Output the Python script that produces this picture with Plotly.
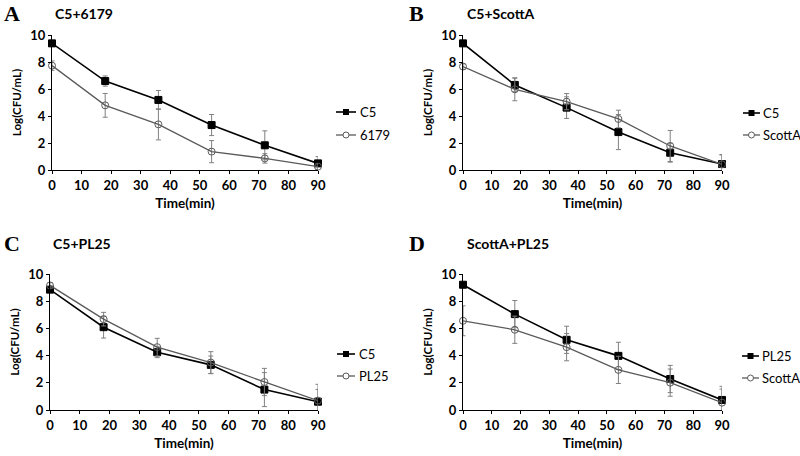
import plotly.graph_objects as go

time = [0, 18, 36, 54, 72, 90]

# Panel A: C5 + 6179
a_c5 = [9.38, 6.59, 5.19, 3.33, 1.83, 0.49]
a_c5_err = [0.2, 0.38, 0.7, 0.78, 1.07, 0.5]
a_6179 = [7.73, 4.79, 3.38, 1.36, 0.86, 0.25]
a_6179_err = [0.35, 0.88, 1.15, 0.82, 0.35, 0.2]

# Panel B: C5 + ScottA
b_c5 = [9.38, 6.30, 4.62, 2.81, 1.28, 0.44]
b_c5_err = [0.2, 0.5, 0.8, 1.3, 0.7, 0.7]
b_scotta = [7.66, 5.98, 5.06, 3.78, 1.78, 0.42]
b_scotta_err = [0.2, 0.85, 0.6, 0.65, 1.15, 0.7]

# Panel C: C5 + PL25
c_c5 = [8.85, 6.09, 4.25, 3.32, 1.50, 0.61]
c_c5_err = [0.2, 0.8, 0.4, 0.65, 1.25, 0.9]
c_pl25 = [9.16, 6.68, 4.62, 3.49, 2.06, 0.69]
c_pl25_err = [0.2, 0.5, 0.65, 0.8, 1.0, 1.2]

# Panel D: PL25 + ScottA
d_pl25 = [9.21, 7.05, 5.16, 3.98, 2.28, 0.74]
d_pl25_err = [0.2, 1.0, 1.0, 1.0, 1.0, 1.0]
d_scotta = [6.56, 5.90, 4.62, 2.95, 2.01, 0.54]
d_scotta_err = [1.1, 1.0, 1.0, 1.0, 1.0, 1.0]

panels = [
    ("A", "C5+6179", ("C5", a_c5, a_c5_err), ("6179", a_6179, a_6179_err)),
    ("B", "C5+ScottA", ("C5", b_c5, b_c5_err), ("ScottA", b_scotta, b_scotta_err)),
    ("C", "C5+PL25", ("C5", c_c5, c_c5_err), ("PL25", c_pl25, c_pl25_err)),
    ("D", "ScottA+PL25", ("PL25", d_pl25, d_pl25_err), ("ScottA", d_scotta, d_scotta_err)),
]

W, H = 800, 456
# plot-area pixel boxes (left, right, top, bottom)
boxes = [
    (52, 318, 35, 170),
    (463, 722, 35, 170),
    (50, 318, 274, 410),
    (463, 722, 274, 410),
]
# legend: (line start x, line end x, text x, y first, y second)
legend_geo = [
    (336, 356, 358, 112, 135),
    (743, 760, 761, 113, 135),
    (337, 355, 357, 354, 376),
    (742, 759, 760, 356, 378),
]
label_pos = [(2, 13), (407, 13), (2, 243), (407, 243)]
title_pos = [(53, 13), (465, 13), (51, 243), (465, 243)]

FONT = "Lato"
STYLES = [
    dict(color="black", symbol="square", fill="black", lw=1.6),
    dict(color="#5a5a5a", symbol="circle-open", fill="#5a5a5a", lw=1.3),
]

fig = go.Figure()
annotations = []
shapes = []
layout = dict(
    width=W, height=H, margin=dict(l=0, r=0, t=0, b=0, autoexpand=False),
    paper_bgcolor="white", plot_bgcolor="white",
    font=dict(family=FONT, color="black"),
    showlegend=False,
)


def px(x):
    return x / W


def py(y):
    return 1 - y / H


for i, (letter, title, s1, s2) in enumerate(panels):
    n = "" if i == 0 else str(i + 1)
    l, r, t, b = boxes[i]
    layout["xaxis" + n] = dict(
        domain=[px(l), px(r)], range=[0, 90], tickvals=list(range(0, 100, 10)),
        showline=True, linecolor="black", linewidth=1, ticks="outside", ticklen=3,
        tickcolor="black", showgrid=False, zeroline=False, automargin=False,
        tickfont=dict(size=13, family=FONT, weight="bold"),
        title=dict(text="<b>Time(min)</b>", font=dict(size=13.5, family=FONT), standoff=6),
        anchor="y" + n, fixedrange=True,
    )
    layout["yaxis" + n] = dict(
        domain=[py(b), py(t)], range=[0, 10], tickvals=[0, 2, 4, 6, 8, 10],
        showline=True, linecolor="black", linewidth=1, ticks="outside", ticklen=3,
        tickcolor="black", showgrid=False, zeroline=False, automargin=False,
        tickfont=dict(size=13, family=FONT, weight="bold"),
        title=dict(text="<b>Log(CFU/mL)</b>", font=dict(size=11.5, family=FONT), standoff=6),
        anchor="x" + n, fixedrange=True,
    )
    x0, x1, xt, ya, yb = legend_geo[i]
    for j, (name, vals, errs) in enumerate([s1, s2]):
        st = STYLES[j]
        fig.add_trace(go.Scatter(
            x=time, y=vals, name=name, mode="lines+markers",
            xaxis="x" + n, yaxis="y" + n,
            line=dict(color=st["color"], width=st["lw"]),
            marker=dict(symbol=st["symbol"], size=7, color=st["fill"],
                        line=dict(color=st["color"], width=1)),
            error_y=dict(type="data", array=errs, visible=True, color="#808080",
                         thickness=1, width=2.5),
            cliponaxis=False,
        ))
        # legend entry (drawn manually)
        yy = ya if j == 0 else yb
        shapes.append(dict(type="line", xref="paper", yref="paper",
                           x0=px(x0), x1=px(x1), y0=py(yy), y1=py(yy),
                           line=dict(color=st["color"], width=st["lw"])))
        xm = (x0 + x1) / 2
        if j == 0:
            shapes.append(dict(type="rect", xref="paper", yref="paper",
                               x0=px(xm - 3), x1=px(xm + 3), y0=py(yy - 3), y1=py(yy + 3),
                               fillcolor="black", line=dict(width=0)))
        else:
            shapes.append(dict(type="circle", xref="paper", yref="paper",
                               x0=px(xm - 3), x1=px(xm + 3), y0=py(yy - 3), y1=py(yy + 3),
                               fillcolor="white", line=dict(color=st["color"], width=1)))
        annotations.append(dict(
            text=name, x=px(xt), y=py(yy), xref="paper", yref="paper",
            xanchor="left", yanchor="middle", showarrow=False,
            font=dict(family=FONT, size=13, color="black"),
        ))
    lx, ly = label_pos[i]
    annotations.append(dict(
        text="<b>" + letter + "</b>", x=px(lx), y=py(ly), xref="paper", yref="paper",
        xanchor="left", yanchor="middle", showarrow=False,
        font=dict(family="Liberation Serif", size=22, color="black"),
    ))
    tx, ty = title_pos[i]
    annotations.append(dict(
        text="<b>" + title + "</b>", x=px(tx), y=py(ty), xref="paper", yref="paper",
        xanchor="left", yanchor="middle", showarrow=False,
        font=dict(family=FONT, size=14, color="black"),
    ))

layout["annotations"] = annotations
layout["shapes"] = shapes
fig.update_layout(**layout)
fig.write_html(
    "out.html",
    config={"displayModeBar": False},
    post_script="document.body.style.margin='0';document.body.style.overflow='hidden';",
)
